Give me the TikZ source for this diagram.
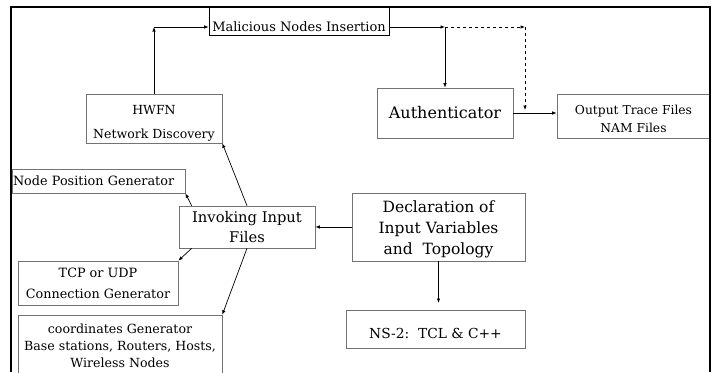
\documentclass[tikz,border=0pt]{standalone}
\usepackage{fontspec}
\setmainfont{DejaVu Serif}
\usetikzlibrary{arrows.meta}
\begin{document}
\begin{tikzpicture}[x=1pt,y=-1pt,
  box/.style={draw=black!55,line width=0.6pt,inner sep=0pt,align=center},
  arr/.style={-{Latex[length=4.5pt,width=3.5pt]},line width=0.7pt}]
\useasboundingbox (0,0) rectangle (719,372);
\fill[white] (0,0) rectangle (719,372);
% boxes
\node[box,draw=black,font=\fontsize{13}{21}\selectfont,minimum width=180pt,text height=24pt,text depth=4pt] (mal) at (299,21) {Malicious Nodes Insertion};
\node[box,font=\fontsize{12.5}{24}\selectfont,minimum width=136pt,minimum height=49pt] (hwfn) at (154,118.5) {\rule{0pt}{18.5pt}HWFN\\Network Discovery};
\node[box,font=\fontsize{12.8}{21}\selectfont,minimum width=173pt,minimum height=24pt,text width=171pt,align=left,inner xsep=1pt] (npg) at (98.5,181) {Node Position Generator};
\node[box,font=\fontsize{14.7}{20}\selectfont,minimum width=136pt,minimum height=42pt] (inv) at (247,227) {Invoking Input\\Files};
\node[box,font=\fontsize{12.8}{21}\selectfont,minimum width=160pt,minimum height=44pt] (tcp) at (98,283) {TCP or UDP\\Connection Generator};
\node[box,font=\fontsize{12.6}{17}\selectfont,minimum width=204pt,minimum height=62pt] (coord) at (120,346) {coordinates Generator\\Base stations, Routers, Hosts,\\Wireless Nodes};
\node[box,font=\fontsize{15.5}{21}\selectfont,minimum width=173pt,minimum height=68pt] (decl) at (438.5,227) {\rule{0pt}{15.8pt}Declaration of\\Input Variables\\and\ \ Topology};
\node[box,font=\fontsize{13.8}{20}\selectfont,minimum width=179pt,minimum height=38pt] (ns) at (435.5,329) {\rule{0pt}{18.5pt}NS-2:\ \ TCL \& C++};
\node[box,font=\fontsize{16}{20}\selectfont,minimum width=136pt,minimum height=50pt] (auth) at (445,113) {Authenticator};
\node[box,font=\fontsize{12.3}{18}\selectfont,minimum width=153pt,minimum height=44pt] (out) at (633.5,116) {\rule{0pt}{15.3pt}Output Trace Files\\NAM Files};
% coordinates
\coordinate (c1) at (154,27);
\coordinate (c3) at (445,27);
\coordinate (c4) at (525,27);
\coordinate (c5) at (525,110);
\coordinate (nsin) at (438.5,303);
% connectors
\draw[arr] (hwfn.north) -- (c1);
\draw[arr] (c1) -- (c1 -| mal.west);
\draw[arr] (c1 -| mal.east) -- (c3);
\draw[arr] (c3) -- (auth.north);
\draw[arr,dash pattern=on 3pt off 3pt] (c3) -- (c4);
\draw[arr,dash pattern=on 3pt off 3pt] (c4) -- (c5);
\draw[arr] (auth.east) -- (auth.east -| out.west);
\draw[arr] (inv.north) -- (hwfn.south east);
\draw[arr] ([xshift=13pt]inv.north west) -- (npg.south east);
\draw[arr] ([xshift=13pt]inv.south west) -- (tcp.north east);
\draw[arr] (inv.south) -- (coord.north east);
\draw[arr] (decl.west) -- (inv.east);
\draw[arr] (decl.south) -- (nsin);
% frame
\draw[line width=2pt] (11,372) -- (11,7) -- (710,7) -- (710,372);
\end{tikzpicture}
\end{document}
